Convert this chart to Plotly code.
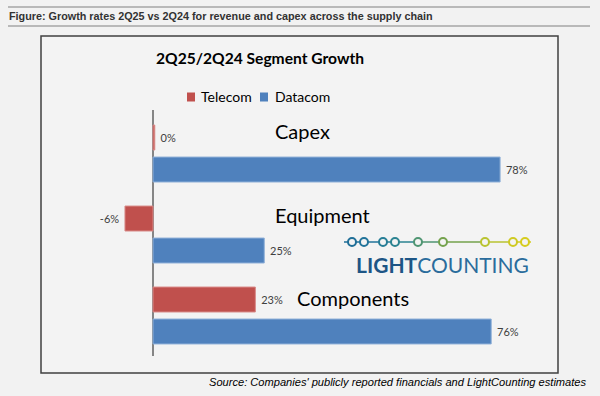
import plotly.graph_objects as go

categories = ["Capex", "Equipment", "Components"]
telecom = [0.4, -6.3, 23]
datacom = [78, 25, 76]
series_names = ["Telecom", "Datacom"]

W, H = 600, 396
def xp(px): return px / W
def yp(py): return 1 - py / H

def labels(vals):
    return [f" {v:.0f}%" if v >= 0 else f"{v:.0f}% " for v in vals]

FONT = "Lato"
RED = "#C0504D"
BLUE = "#4F81BD"
colors = [RED, BLUE]
edges = ["#d88a88", "#8fb0d8"]

fig = go.Figure()
for name, vals, col, edge in zip(series_names, [telecom, datacom], colors, edges):
    fig.add_trace(go.Bar(
        y=categories, x=vals, orientation="h", name=name, showlegend=False,
        marker=dict(color=col, line=dict(color=edge, width=1)),
        text=labels(vals), textposition="outside", cliponaxis=False,
        textfont=dict(family=FONT, size=11, color="#404040"),
    ))

xr = [-12, 88]
fig.update_layout(
    width=W, height=H, margin=dict(l=0, r=0, t=0, b=0),
    paper_bgcolor="#f2f2f2", plot_bgcolor="rgba(0,0,0,0)",
    barmode="group", bargap=0.21, bargroupgap=0.22,
    xaxis=dict(range=xr, domain=[xp(99.6), xp(544.6)], showgrid=False,
               showticklabels=False, zeroline=True, zerolinecolor="#858585",
               zerolinewidth=2, showline=False, fixedrange=True),
    yaxis=dict(domain=[yp(356), yp(109.8)], range=[2.5, -0.54], showgrid=False,
               showticklabels=False, zeroline=False, showline=False, fixedrange=True),
)

shapes = [
    dict(type="rect", xref="paper", yref="paper", x0=xp(41), x1=xp(558), y0=yp(373), y1=yp(36),
         line=dict(color="#404040", width=1.5), fillcolor="#f3f3f3", layer="below"),
    dict(type="line", xref="paper", yref="paper", x0=xp(8), x1=xp(590), y0=yp(7), y1=yp(7),
         line=dict(color="#a6a6a6", width=1.5)),
    dict(type="line", xref="paper", yref="paper", x0=xp(8), x1=xp(590), y0=yp(26), y1=yp(26),
         line=dict(color="#a6a6a6", width=1.5)),
]

# legend (squares + names)
leg_sq_x = [187, 260]
leg_txt_x = [199, 273]
leg_y = 97
for sx, col in zip(leg_sq_x, colors):
    shapes.append(dict(type="rect", xref="paper", yref="paper",
                       x0=xp(sx), x1=xp(sx + 8), y0=yp(leg_y + 4.5), y1=yp(leg_y - 4.5),
                       line=dict(width=0), fillcolor=col))

# LightCounting logo
dots_x = [352, 364, 383, 395, 418, 443, 485, 513, 525]
dot_cols = ["#1f6e97", "#21739a", "#267d96", "#2b8391", "#4f9572", "#74a24d", "#b9c330", "#cfca22", "#d6cc1e"]
ly = 242
seg_pts = [344] + dots_x + [531]
for i in range(len(seg_pts) - 1):
    c = dot_cols[min(max(i - 1, 0), len(dot_cols) - 1)] if i > 0 else dot_cols[0]
    shapes.append(dict(type="line", xref="paper", yref="paper",
                       x0=xp(seg_pts[i]), x1=xp(seg_pts[i + 1]), y0=yp(ly), y1=yp(ly),
                       line=dict(color=c, width=1.5), layer="above"))
for x, c in zip(dots_x, dot_cols):
    shapes.append(dict(type="circle", xref="paper", yref="paper",
                       x0=xp(x - 4), x1=xp(x + 4), y0=yp(ly + 4), y1=yp(ly - 4),
                       line=dict(color=c, width=2), fillcolor="#f3f3f3", layer="above"))

fig.update_layout(shapes=shapes)

ann = [
    dict(text="<b>Figure: Growth rates 2Q25 vs 2Q24 for revenue and capex across the supply chain</b>",
         x=xp(7), y=yp(16.5), xanchor="left", yanchor="middle",
         font=dict(family="Liberation Sans", size=10.8, color="#333333")),
    dict(text="<b>2Q25/2Q24 Segment Growth</b>", x=xp(260), y=yp(58), xanchor="center", yanchor="middle",
         font=dict(family=FONT, size=15.6, color="#000")),
    dict(text="<i>Source: Companies' publicly reported financials and LightCounting estimates</i>",
         x=xp(589), y=yp(382), xanchor="right", yanchor="middle",
         font=dict(family="Liberation Sans", size=11.1, color="#000")),
    dict(text="<b><span style='color:#1d5585'>LIGHT</span></b><span style='color:#2a6c9c'>COUNTING</span>",
         x=xp(442), y=yp(264), xanchor="center", yanchor="middle",
         font=dict(family=FONT, size=21, color="#215e8c")),
]
for name, tx in zip(series_names, leg_txt_x):
    ann.append(dict(text=name, x=xp(tx), y=yp(leg_y), xanchor="left", yanchor="middle",
                    font=dict(family=FONT, size=14, color="#000")))
for a in ann:
    a.update(xref="paper", yref="paper", showarrow=False)

cat_x = [27.0, 27.0, 31.9]
cat_shift = [23, 20, 18]
for c, x, s in zip(categories, cat_x, cat_shift):
    ann.append(dict(text=c, x=x, y=c, xref="x", yref="y", xanchor="left", yanchor="middle",
                    yshift=s, showarrow=False, font=dict(family=FONT, size=20, color="#000")))

fig.update_layout(annotations=ann)
fig.write_html("out.html", config={"displayModeBar": False},
               post_script="document.body.style.margin='0';")
